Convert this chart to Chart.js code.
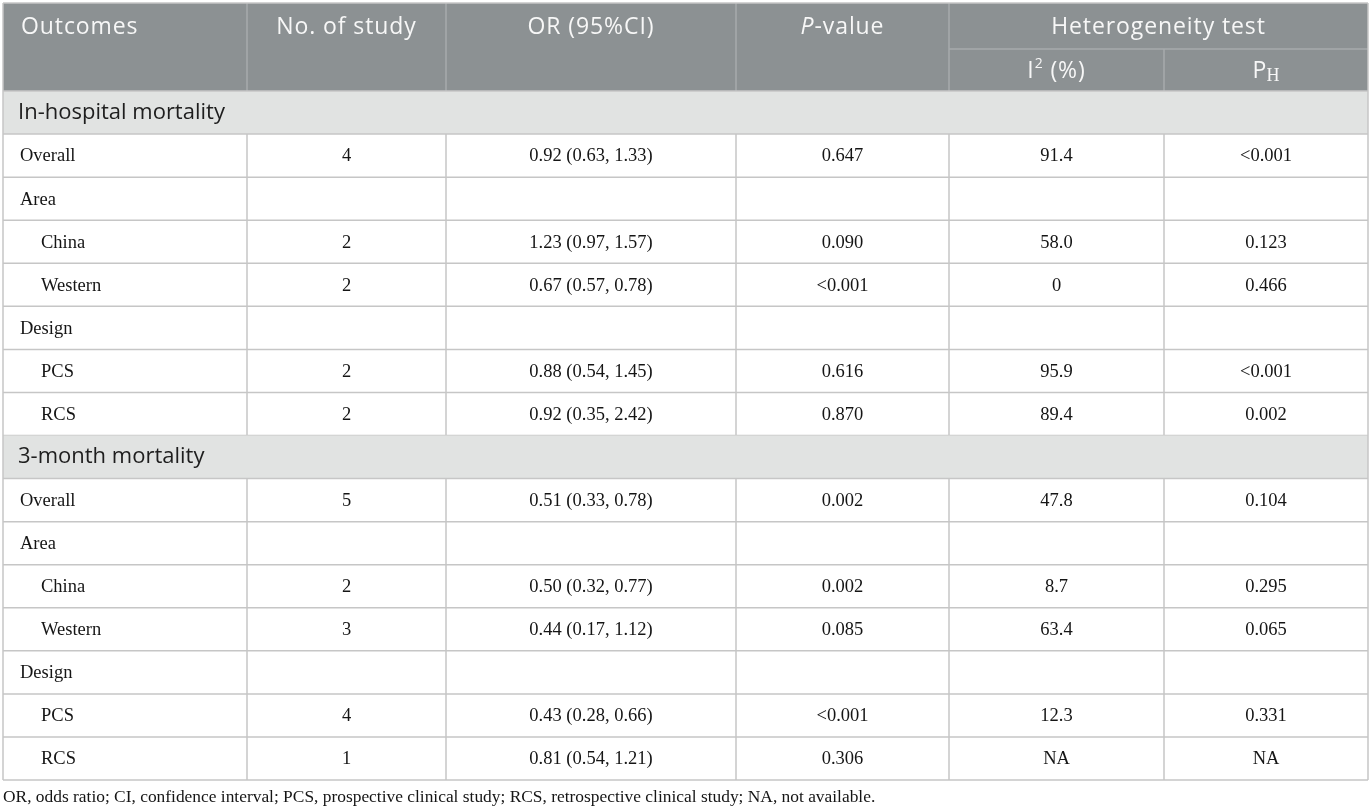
<!DOCTYPE html>
<html lang="en">
<head>
  <meta charset="UTF-8">
  <title>Subgroup analysis of mortality</title>
  <script src="https://cdn.jsdelivr.net/npm/chart.js"></script>
  <style>
    html, body { margin: 0; padding: 0; background: #fff; }
    #wrap { width: 1372px; height: 810px; position: relative; }
  </style>
</head>
<body>

  <div id="wrap"><canvas id="table-chart"></canvas></div>

  <script>
    // Table contents
    const sectionTitles = ['In-hospital mortality', '3-month mortality'];
    const subgroups = ['Overall', 'Area', 'China', 'Western', 'Design', 'PCS', 'RCS'];
    const subgroupLevel = [0, 0, 1, 1, 0, 1, 1];

    const studyCount = [[4, null, 2, 2, null, 2, 2], [5, null, 2, 3, null, 4, 1]];
    const oddsRatio = [[0.92, null, 1.23, 0.67, null, 0.88, 0.92], [0.51, null, 0.50, 0.44, null, 0.43, 0.81]];
    const ciLower = [[0.63, null, 0.97, 0.57, null, 0.54, 0.35], [0.33, null, 0.32, 0.17, null, 0.28, 0.54]];
    const ciUpper = [[1.33, null, 1.57, 0.78, null, 1.45, 2.42], [0.78, null, 0.77, 1.12, null, 0.66, 1.21]];
    const pValue = [['0.647', '', '0.090', '<0.001', '', '0.616', '0.870'], ['0.002', '', '0.002', '0.085', '', '<0.001', '0.306']];
    const iSquared = [['91.4', '', '58.0', '0', '', '95.9', '89.4'], ['47.8', '', '8.7', '63.4', '', '12.3', 'NA']];
    const pHetero = [['<0.001', '', '0.123', '0.466', '', '<0.001', '0.002'], ['0.104', '', '0.295', '0.065', '', '0.331', 'NA']];

    const footnote = 'OR, odds ratio; CI, confidence interval; PCS, prospective clinical study; RCS, retrospective clinical study; NA, not available.';

    // Layout (table units on the x scale, one row per category on the y scale)
    const colEdges = [0, 244, 443, 733, 946, 1161, 1365];
    const headerTop = 3;
    const headerSplit = 49;

    const HEAD_BG = '#8c9193';
    const HEAD_LINE = '#a7abad';
    const SECTION_BG = '#e1e3e2';
    const GRID = '#c6c6c6';
    const SANS = '"Open Sans", Lato, sans-serif';
    const SERIF = '"Liberation Serif", "DejaVu Serif", serif';

    // flatten sections + subgroups into table rows
    const rows = [];
    sectionTitles.forEach(function(title, s) {
      rows.push({ section: true, label: title });
      subgroups.forEach(function(name, k) {
        const cells = [
          studyCount[s][k] == null ? '' : String(studyCount[s][k]),
          oddsRatio[s][k] == null ? '' :
            oddsRatio[s][k].toFixed(2) + ' (' + ciLower[s][k].toFixed(2) + ', ' + ciUpper[s][k].toFixed(2) + ')',
          pValue[s][k],
          iSquared[s][k],
          pHetero[s][k]
        ];
        rows.push({ section: false, label: name, level: subgroupLevel[k], cells: cells });
      });
    });

    function hLine(ctx, x1, x2, yy, color) {
      ctx.strokeStyle = color;
      ctx.beginPath();
      ctx.moveTo(x1, yy);
      ctx.lineTo(x2, yy);
      ctx.stroke();
    }
    function vLine(ctx, xx, y1, y2, color) {
      ctx.strokeStyle = color;
      ctx.beginPath();
      ctx.moveTo(xx, y1);
      ctx.lineTo(xx, y2);
      ctx.stroke();
    }

    // draws text made of pieces [text, font, dy] centred on cx
    function drawPieces(ctx, pieces, cx, cy, color) {
      let total = 0;
      pieces.forEach(function(p) { ctx.font = p[1]; total += ctx.measureText(p[0]).width; });
      let px = cx - total / 2;
      ctx.fillStyle = color;
      ctx.textAlign = 'left';
      pieces.forEach(function(p) {
        ctx.font = p[1];
        ctx.fillText(p[0], px, cy + (p[2] || 0));
        px += ctx.measureText(p[0]).width;
      });
    }

    const tablePlugin = {
      id: 'tableDraw',
      beforeDraw(chart) {
        const ctx = chart.ctx;
        ctx.save();
        ctx.fillStyle = '#ffffff';
        ctx.fillRect(0, 0, chart.width, chart.height);
        ctx.restore();
      },
      afterDraw(chart) {
        const ctx = chart.ctx;
        const area = chart.chartArea;
        const xs = chart.scales.x;
        const ys = chart.scales.y;
        const colX = colEdges.map(function(v) { return xs.getPixelForValue(v); });
        const left = colX[0];
        const right = colX[colX.length - 1];
        const rowH = (area.bottom - area.top) / rows.length;
        const top = headerTop;
        const split = headerSplit;
        const headBottom = area.top;

        ctx.save();
        ctx.lineWidth = 1.5;
        ctx.textBaseline = 'middle';

        // header block
        ctx.fillStyle = HEAD_BG;
        ctx.fillRect(left, top, right - left, headBottom - top);
        for (let c = 1; c < colX.length - 1; c++) {
          vLine(ctx, colX[c], c === 5 ? split : top, headBottom, HEAD_LINE);
        }
        hLine(ctx, colX[4], right, split, HEAD_LINE);

        const headFont = '23px ' + SANS;
        const headColor = '#f7f7f7';
        const r1 = (top + split) / 2 + 1;
        const r2 = (split + headBottom) / 2 + 1;
        ctx.letterSpacing = '0.9px';
        ctx.fillStyle = headColor;
        ctx.font = headFont;
        ctx.textAlign = 'left';
        ctx.fillText('Outcomes', left + 18, r1);
        ctx.textAlign = 'center';
        ctx.fillText('No. of study', (colX[1] + colX[2]) / 2, r1);
        ctx.fillText('OR (95%CI)', (colX[2] + colX[3]) / 2, r1);
        drawPieces(ctx, [['P', 'italic ' + headFont], ['-value', headFont]], (colX[3] + colX[4]) / 2, r1, headColor);
        ctx.textAlign = 'center';
        ctx.fillText('Heterogeneity test', (colX[4] + right) / 2, r1);
        drawPieces(ctx, [['I', headFont], ['2', '14px ' + SANS, -7], [' (%)', headFont]], (colX[4] + colX[5]) / 2, r2, headColor);
        ctx.letterSpacing = '0px';
        drawPieces(ctx, [['P', headFont], ['H', '18px ' + SERIF, 5]], (colX[5] + right) / 2, r2, headColor);

        // body rows
        rows.forEach(function(row, i) {
          const cy = ys.getPixelForValue(i);
          const y0 = cy - rowH / 2;
          const y1 = cy + rowH / 2;
          if (row.section) {
            ctx.fillStyle = SECTION_BG;
            ctx.fillRect(left, y0, right - left, rowH);
            ctx.fillStyle = '#1e1e1e';
            ctx.font = '22px ' + SANS;
            ctx.textAlign = 'left';
            ctx.fillText(row.label, left + 15, cy);
          } else {
            ctx.fillStyle = '#151515';
            ctx.font = '18.5px ' + SERIF;
            ctx.textAlign = 'left';
            ctx.fillText(row.label, left + (row.level ? 38 : 17), cy + 1);
            ctx.textAlign = 'center';
            row.cells.forEach(function(txt, c) {
              if (txt) ctx.fillText(txt, (colX[c + 1] + colX[c + 2]) / 2, cy + 1);
            });
            for (let c = 1; c < colX.length - 1; c++) vLine(ctx, colX[c], y0, y1, GRID);
          }
          hLine(ctx, left, right, y1, GRID);
          if (i === 0) hLine(ctx, left, right, y0, GRID);
        });

        // outer frame
        vLine(ctx, left, top, area.bottom, GRID);
        vLine(ctx, right, top, area.bottom, GRID);
        hLine(ctx, left, right, top, GRID);

        // footnote
        ctx.fillStyle = '#151515';
        ctx.font = '17.4px ' + SERIF;
        ctx.textAlign = 'left';
        ctx.fillText(footnote, left, area.bottom + 17);
        ctx.restore();
      }
    };

    const ctx = document.getElementById('table-chart').getContext('2d');
    const tableChart = new Chart(ctx, {
      type: 'scatter',
      data: { datasets: [] },
      options: {
        responsive: true,
        maintainAspectRatio: false,
        animation: false,
        events: [],
        layout: { padding: { top: 91, bottom: 30, left: 3, right: 4 } },
        plugins: { legend: { display: false }, tooltip: { enabled: false } },
        scales: {
          x: { type: 'linear', min: colEdges[0], max: colEdges[colEdges.length - 1], display: false },
          y: { type: 'category', labels: rows.map(function(r) { return r.label; }), offset: true, display: false }
        }
      },
      plugins: [tablePlugin]
    });
  </script>

</body>
</html>
